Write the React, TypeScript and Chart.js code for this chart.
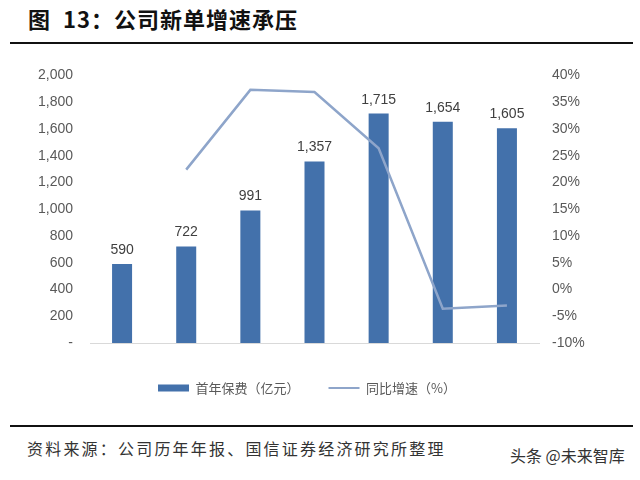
import React, { useEffect, useRef } from "react";
import { Chart, registerables } from "chart.js";

Chart.register(...registerables);

const years = ["2013", "2014", "2015", "2016", "2017", "2018", "2019"];
const premiums = [590, 722, 991, 1357, 1715, 1654, 1605];
const growth = [null, 22.4, 37.3, 36.9, 26.4, -3.6, -3.0];
const seriesNames = ["首年保费（亿元）", "同比增速（%）"];
const titleText = "13：公司新单增速承压";
const sourceText = "资料来源：公司历年年报、国信证券经济研究所整理";
const watermark = "头条 @未来智库";

const BAR_COLOR = "#4371AB";
const LINE_COLOR = "#8EA5CA";
const TICK_COLOR = "#595959";
const LATIN = '"Liberation Sans", Arial, sans-serif';
const CJK = '"Noto Sans CJK SC", sans-serif';

const fmt = (v: number) => v.toLocaleString("en-US");

const valueLabels = {
  id: "valueLabels",
  afterDatasetsDraw(chart: any) {
    const meta = chart.getDatasetMeta(0);
    const ctx = chart.ctx;
    ctx.save();
    ctx.font = `14px ${LATIN}`;
    ctx.fillStyle = "#404040";
    ctx.textAlign = "center";
    ctx.textBaseline = "alphabetic";
    meta.data.forEach((el: any, i: number) => {
      ctx.fillText(fmt(premiums[i]), el.x, el.y - 10);
    });
    ctx.restore();
  },
};

function ChartCanvas() {
  const ref = useRef<HTMLCanvasElement | null>(null);
  useEffect(() => {
    if (!ref.current) return;
    const chart = new Chart(ref.current, {
      type: "bar",
      data: {
        labels: years,
        datasets: [
          {
            type: "bar",
            label: seriesNames[0],
            data: premiums,
            backgroundColor: BAR_COLOR,
            borderWidth: 0,
            yAxisID: "y",
            order: 1,
            categoryPercentage: 0.8,
            barPercentage: 0.39,
          } as any,
          {
            type: "line",
            label: seriesNames[1],
            data: growth,
            borderColor: LINE_COLOR,
            backgroundColor: LINE_COLOR,
            borderWidth: 2.5,
            pointRadius: 0,
            tension: 0,
            spanGaps: false,
            yAxisID: "y1",
            order: 0,
          } as any,
        ],
      },
      plugins: [valueLabels],
      options: {
        responsive: false,
        animation: false,
        layout: { padding: { left: 0, right: 26, top: 19, bottom: 10.5 } },
        plugins: {
          tooltip: { enabled: false },
          legend: {
            position: "bottom",
            labels: {
              usePointStyle: true,
              pointStyleWidth: 31,
              boxHeight: 7,
              padding: 29,
              color: TICK_COLOR,
              font: { family: CJK, size: 13 },
              generateLabels: () => [
                {
                  text: seriesNames[0],
                  fillStyle: BAR_COLOR,
                  strokeStyle: BAR_COLOR,
                  lineWidth: 0,
                  pointStyle: "rect",
                  datasetIndex: 0,
                  hidden: false,
                  fontColor: TICK_COLOR,
                },
                {
                  text: seriesNames[1],
                  fillStyle: LINE_COLOR,
                  strokeStyle: LINE_COLOR,
                  lineWidth: 2,
                  pointStyle: "line",
                  datasetIndex: 1,
                  hidden: false,
                  fontColor: TICK_COLOR,
                },
              ],
            },
          },
        },
        scales: {
          x: {
            grid: { display: false },
            border: { display: true, color: "#D9D9D9", width: 1 },
            ticks: { color: TICK_COLOR, font: { family: LATIN, size: 14 }, padding: 10 },
            afterFit: (s: any) => {
              s.height = 9.5;
            },
          },
          y: {
            position: "left",
            min: 0,
            max: 2000,
            grid: { display: false, drawTicks: false },
            border: { display: false },
            ticks: {
              stepSize: 200,
              padding: 17,
              color: TICK_COLOR,
              font: { family: LATIN, size: 14 },
              callback: (v: any) => (Number(v) === 0 ? "-" : fmt(Number(v))),
            },
            afterFit: (s: any) => {
              s.width = 90;
            },
          },
          y1: {
            position: "right",
            min: -10,
            max: 40,
            grid: { display: false, drawTicks: false },
            border: { display: false },
            ticks: {
              stepSize: 5,
              padding: 13,
              color: TICK_COLOR,
              font: { family: LATIN, size: 14 },
              callback: (v: any) => `${Math.round(Number(v))}%`,
            },
            afterFit: (s: any) => {
              s.width = 75;
            },
          },
        },
      } as any,
    });
    return () => chart.destroy();
  }, []);
  return <canvas ref={ref} width={640} height={365} style={{ display: "block" }} />;
}

export default function App() {
  return (
    <div
      style={{
        position: "absolute",
        left: 0,
        top: 0,
        width: 640,
        height: 480,
        background: "#fff",
        overflow: "hidden",
      }}
    >
      <div
        style={{
          position: "absolute",
          left: 28,
          top: 7,
          fontFamily: CJK,
          fontWeight: 700,
          fontSize: 22,
          lineHeight: "22px",
          color: "#111",
          letterSpacing: 1,
          whiteSpace: "nowrap",
        }}
      >
        <span>图</span>
        <span style={{ marginLeft: 12 }}>{titleText}</span>
      </div>
      <div style={{ position: "absolute", left: 10, top: 42, width: 623, height: 2, background: "#111" }} />
      <div style={{ position: "absolute", left: 0, top: 50 }}>
        <ChartCanvas />
      </div>
      <div style={{ position: "absolute", left: 10, top: 425, width: 623, height: 2, background: "#111" }} />
      <div
        style={{
          position: "absolute",
          left: 27,
          top: 440,
          fontFamily: CJK,
          fontSize: 16,
          lineHeight: "16px",
          color: "#333",
          letterSpacing: 2.2,
          whiteSpace: "nowrap",
        }}
      >
        {sourceText}
      </div>
      <div
        style={{
          position: "absolute",
          left: 510,
          top: 447,
          fontFamily: CJK,
          fontSize: 16,
          lineHeight: "16px",
          color: "#333",
          whiteSpace: "nowrap",
        }}
      >
        {watermark}
      </div>
    </div>
  );
}
